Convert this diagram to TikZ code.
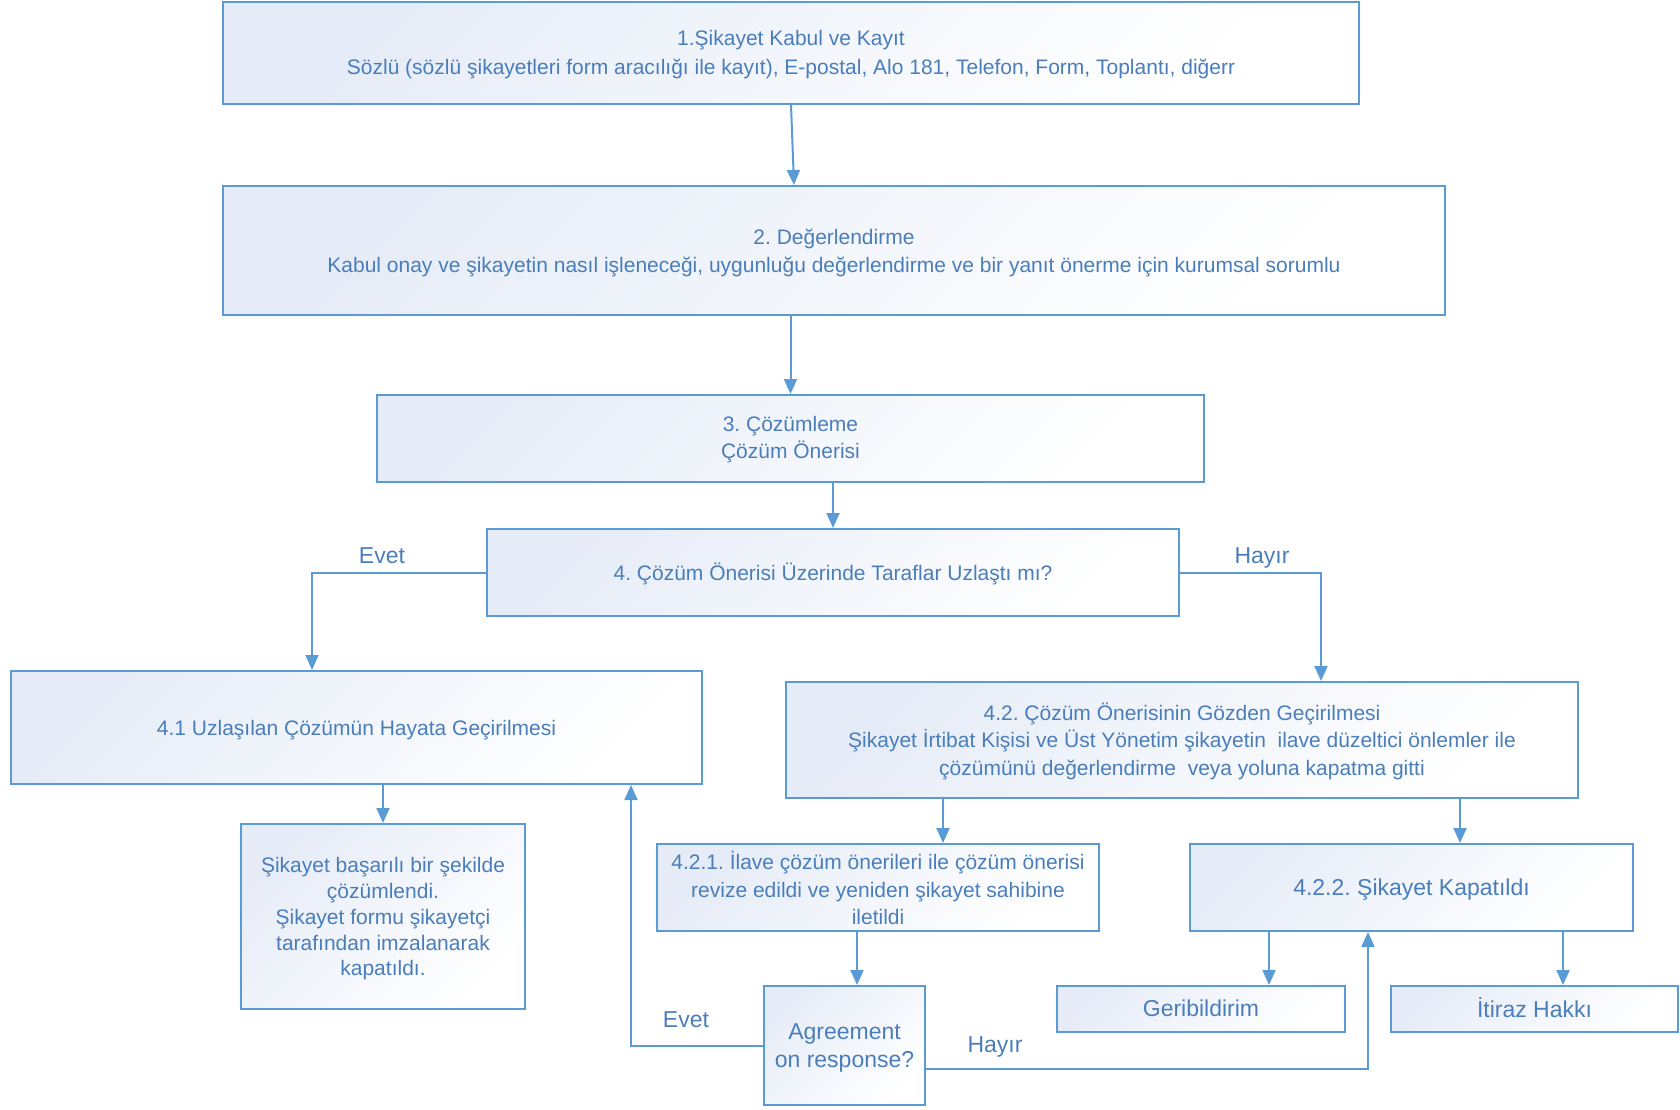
\documentclass[tikz,border=0pt]{standalone}
\usepackage{fontspec}
\setmainfont{Liberation Sans}
\usetikzlibrary{arrows.meta,calc}
\frenchspacing
\definecolor{txtc}{RGB}{74,126,187}
\definecolor{linec}{RGB}{91,155,213}
\definecolor{fillc}{RGB}{230,236,247}
\newcommand{\boxtxt}[2][2.3pt]{\raisebox{-#1}[\height][\depth]{\begin{tabular}{@{}c@{}}#2\end{tabular}}}
\tikzset{
  box/.style={draw=linec, line width=2pt, top color=fillc, bottom color=white, shading angle=45,
    text=txtc, align=center, inner sep=0pt, font=\fontsize{21}{27.5}\selectfont},
  bigbox/.style={box, font=\fontsize{23}{28}\selectfont},
  arr/.style={draw=linec, line width=2pt, -{Triangle[length=15pt,width=13pt]}},
  lbl/.style={text=txtc, font=\fontsize{23}{28}\selectfont, inner sep=0pt}
}
\begin{document}
\begin{tikzpicture}[x=1pt,y=-1pt]
\useasboundingbox (0,0) rectangle (1680,1110);
\node[box, minimum width=1136pt, minimum height=102pt, font=\fontsize{21}{29}\selectfont] (b1) at (791,53)
  {\boxtxt[1.2pt]{1.Şikayet Kabul ve Kayıt\\Sözlü (sözlü şikayetleri form aracılığı ile kayıt), E-postal, Alo 181, Telefon, Form, Toplantı, diğerr}};
\node[box, minimum width=1222pt, minimum height=129pt, font=\fontsize{21}{28.5}\selectfont] (b2) at (834,250.5)
  {\boxtxt{2. Değerlendirme\\Kabul onay ve şikayetin nasıl işleneceği, uygunluğu değerlendirme ve bir yanıt önerme için kurumsal sorumlu}};
\node[box, minimum width=827pt, minimum height=87pt] (b3) at (790.5,438.5)
  {\boxtxt[1.2pt]{3. Çözümleme\\Çözüm Önerisi}};
\node[box, minimum width=692pt, minimum height=87pt] (b4) at (833,572.5)
  {\boxtxt{4. Çözüm Önerisi Üzerinde Taraflar Uzlaştı mı?}};
\node[box, minimum width=691pt, minimum height=113pt] (b41) at (356.5,727.5)
  {\boxtxt{4.1 Uzlaşılan Çözümün Hayata Geçirilmesi}};
\node[box, minimum width=792pt, minimum height=116pt] (b42) at (1182,740)
  {\boxtxt{4.2. Çözüm Önerisinin Gözden Geçirilmesi\\Şikayet İrtibat Kişisi ve Üst Yönetim şikayetin~ ilave düzeltici önlemler ile\\çözümünü değerlendirme~ veya yoluna kapatma gitti}};
\node[box, minimum width=284pt, minimum height=185pt, font=\fontsize{21}{25.7}\selectfont] (s) at (383,916.5)
  {\boxtxt[2.7pt]{Şikayet başarılı bir şekilde\\çözümlendi.\\Şikayet formu şikayetçi\\tarafından imzalanarak\\kapatıldı.}};
\node[box, minimum width=442pt, minimum height=87pt] (b421) at (878,887.5)
  {\boxtxt[4.3pt]{4.2.1. İlave çözüm önerileri ile çözüm önerisi\\revize edildi ve yeniden şikayet sahibine\\iletildi}};
\node[bigbox, minimum width=443pt, minimum height=87pt] (b422) at (1411.5,887.5)
  {\boxtxt{4.2.2. Şikayet Kapatıldı}};
\node[bigbox, minimum width=161pt, minimum height=119pt] (ag) at (844.5,1045.5)
  {\boxtxt{Agreement\\on response?}};
\node[bigbox, minimum width=288pt, minimum height=46pt] (geri) at (1201,1009)
  {\boxtxt{Geribildirim}};
\node[bigbox, minimum width=287pt, minimum height=46pt] (itz) at (1534.5,1009)
  {\boxtxt{İtiraz Hakkı}};

% connectors
\draw[arr] (b1.south) -- ([xshift=-40pt]b2.north);
\draw[arr] (b3.north |- b2.south) -- (b3.north);
\draw[arr] (b4.north |- b3.south) -- (b4.north);
\coordinate (t41) at ([xshift=-44.5pt]b41.north);
\draw[arr] (b4.west) -| (t41);
\node[lbl] (evet1) at (382,556) {Evet};
\coordinate (t42) at ([xshift=139pt]b42.north);
\draw[arr] (b4.east) -| (t42);
\node[lbl] (hayir1) at (1262,558) {Hayır};
\draw[arr] (s.north |- b41.south) -- (s.north);
\coordinate (t421) at ([xshift=65pt]b421.north);
\draw[arr] (t421 |- b42.south) -- (t421);
\coordinate (t422) at ([xshift=48.5pt]b422.north);
\draw[arr] (t422 |- b42.south) -- (t422);
\coordinate (tag) at ([xshift=12.5pt]ag.north);
\draw[arr] (tag |- b421.south) -- (tag);
\coordinate (u41) at ([xshift=274.5pt]b41.south);
\draw[arr] (ag.west) -| (u41);
\node[lbl] (evet2) at (686,1020) {Evet};
\coordinate (aeast) at ([yshift=-23.5pt]ag.east);
\coordinate (u422) at ([xshift=-43.5pt]b422.south);
\draw[arr] (aeast) -| (u422);
\node[lbl] (hayir2) at (995,1047) {Hayır};
\coordinate (tg) at ([xshift=68pt]geri.north);
\draw[arr] (tg |- b422.south) -- (tg);
\coordinate (ti) at ([xshift=28.5pt]itz.north);
\draw[arr] (ti |- b422.south) -- (ti);
\end{tikzpicture}
\end{document}
